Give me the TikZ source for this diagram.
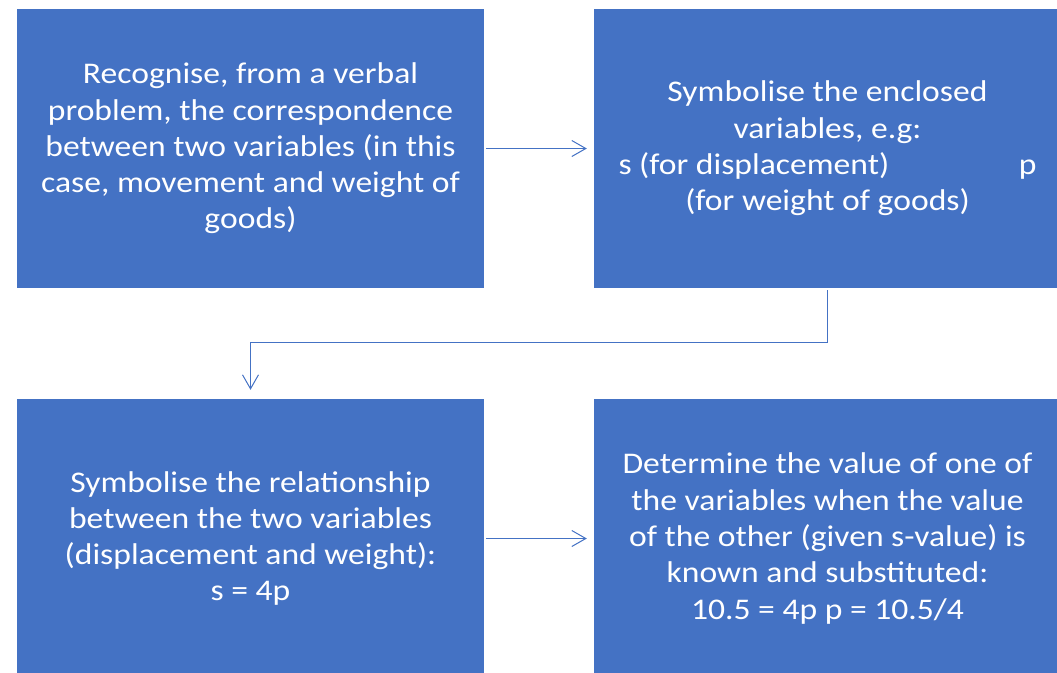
\documentclass[tikz,border=0pt]{standalone}
\usepackage{fontspec}
\setmainfont[FakeStretch=1.12]{Carlito}
\usetikzlibrary{arrows.meta,calc}
\definecolor{boxblue}{HTML}{4472C4}
\tikzset{
  box/.style={fill=boxblue, draw=none, minimum width=467pt, minimum height=279pt, inner sep=0pt,
    text=white, align=center, font=\fontsize{30}{36.3}\selectfont},
  arr/.style={draw=boxblue, line width=1pt, -{Straight Barb[length=14pt,width=16pt,line width=1pt]}}
}
\begin{document}
\begin{tikzpicture}[x=1pt,y=-1pt]
\useasboundingbox (0,0) rectangle (1057,672);
\clip (0,0) rectangle (1057,672);
\node[box] (a) at (250.5,148.5) {Recognise, from a verbal\\problem, the correspondence\\between two variables (in this\\case, movement and weight of\\goods)};
\node[box] (b) at (827.5,148.5) {Symbolise the enclosed\\variables, e.g:\\\makebox[418pt]{s (for displacement)\hfill p}\\(for weight of goods)};
\node[box] (c) at (250.5,538.5) {Symbolise the relationship\\between the two variables\\(displacement and weight):\\s = 4p};
\node[box] (d) at (827.5,538.5) {Determine the value of one of\\the variables when the value\\of the other (given s-value) is\\known and substituted:\\10.5 = 4p p = 10.5/4};
\coordinate (m) at (0,342);
\draw[arr, shorten <=2pt, shorten >=7pt] (a.east) -- (b.west);
\draw[arr, shorten <=2pt, shorten >=7pt] (c.east) -- (d.west);
\draw[arr, shorten <=2pt, shorten >=9pt] (b.south) -- (b.south |- m) -| (c.north);
\end{tikzpicture}
\end{document}
